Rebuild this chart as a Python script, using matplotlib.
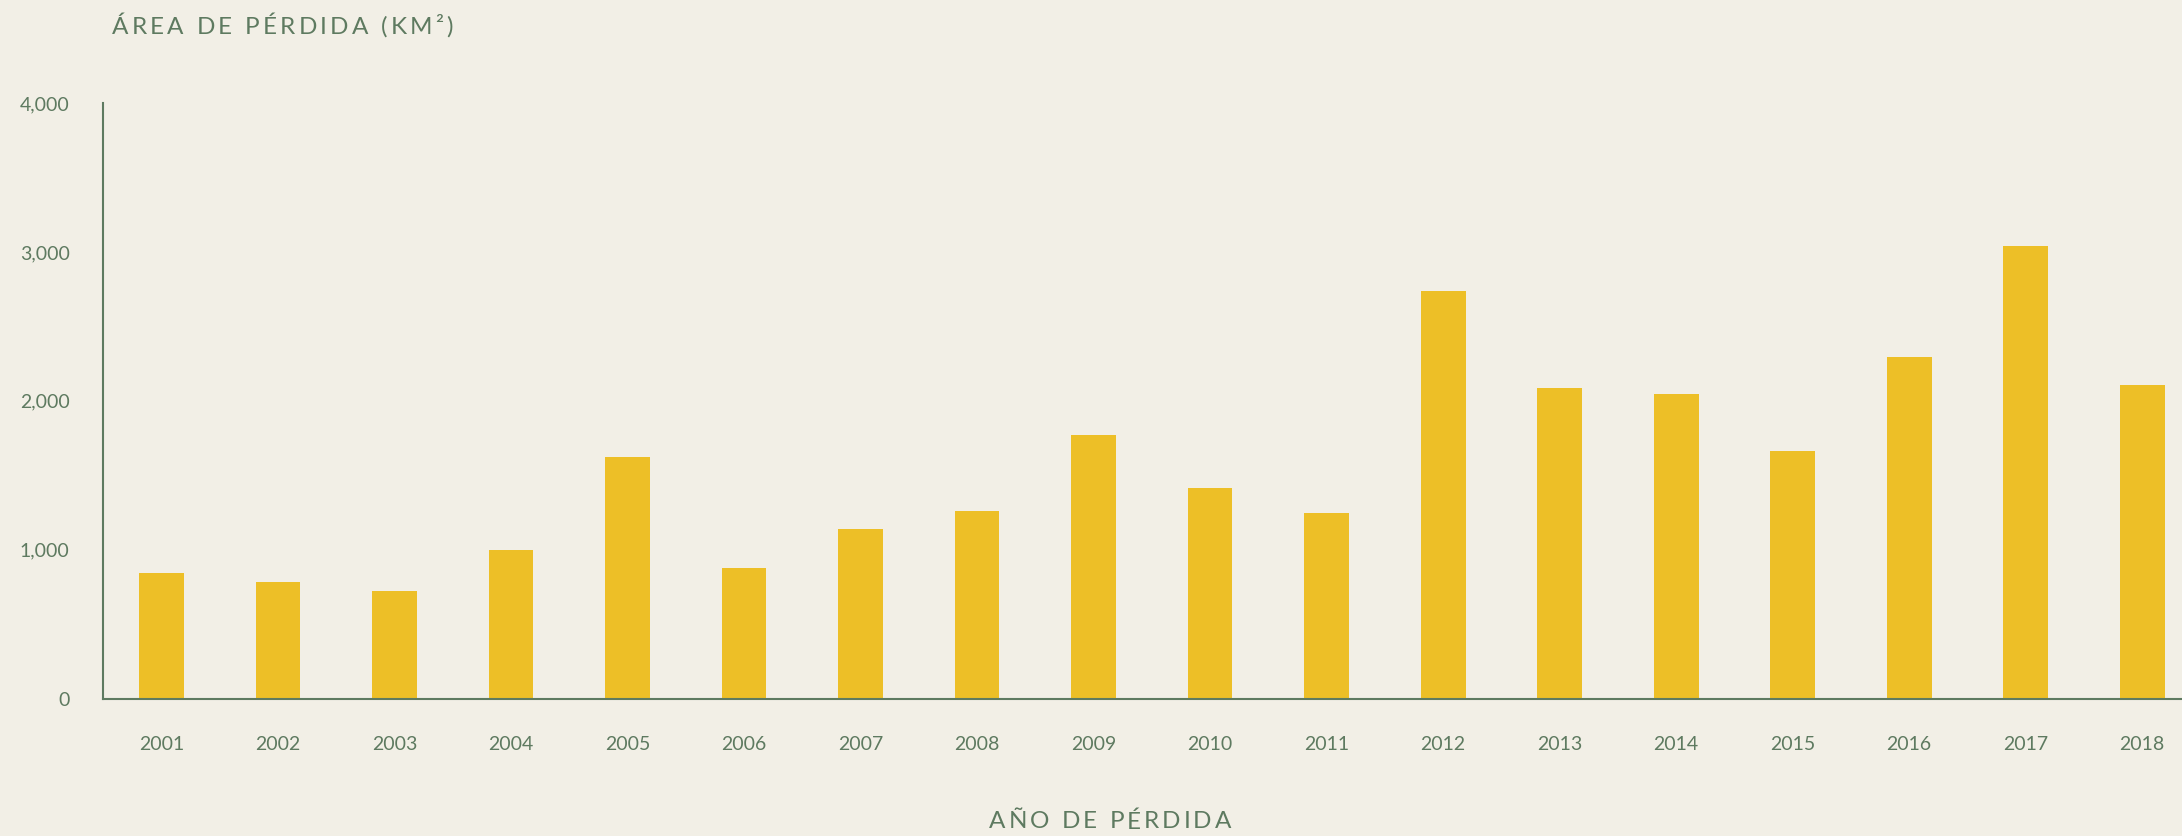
import matplotlib
matplotlib.use("Agg")
import matplotlib.pyplot as plt
from matplotlib.ticker import FuncFormatter

# Data
years = ["2001", "2002", "2003", "2004", "2005", "2006", "2007", "2008", "2009",
         "2010", "2011", "2012", "2013", "2014", "2015", "2016", "2017", "2018"]
loss_km2 = [844, 784, 723, 999, 1623, 878, 1140, 1261, 1771,
            1415, 1247, 2737, 2087, 2046, 1663, 2293, 3039, 2106]
y_ticks = [0, 1000, 2000, 3000, 4000]
title_text = "ÁREA DE PÉRDIDA (KM²)"
xlabel_text = "AÑO DE PÉRDIDA"

BG = "#f2efe6"
BAR = "#edbf27"
INK = "#5e7a60"
FONT = ["Lato", "DejaVu Sans"]

plt.rcParams["font.family"] = FONT

W, H = 2182, 836
fig = plt.figure(figsize=(W / 100, H / 100), dpi=100, facecolor=BG)
ax = fig.add_axes([103 / W, (H - 698.7) / H, (W - 103) / W, (698.7 - 103) / H])
ax.set_facecolor(BG)

x = list(range(len(years)))
ax.bar(x, loss_km2, width=0.386, color=BAR, zorder=2)

ax.set_xlim(-0.502, 17.343)
ax.set_ylim(0, 4000)
ax.set_xticks(x)
ax.set_xticklabels(years)
ax.set_yticks(y_ticks)
ax.yaxis.set_major_formatter(FuncFormatter(lambda v, p: f"{int(v):,}"))

for s in ["top", "right"]:
    ax.spines[s].set_visible(False)
for s in ["left", "bottom"]:
    ax.spines[s].set_color(INK)
    ax.spines[s].set_linewidth(1.5)
    ax.spines[s].set_zorder(3)

ax.tick_params(axis="both", length=0, colors=INK, labelsize=14)
ax.tick_params(axis="x", pad=27)
ax.tick_params(axis="y", pad=24)


def spaced_text(fig, x_px, y_px, s, size, ha="left", spacing=0.12):
    """Draw text with extra letter spacing (in em) by placing each glyph."""
    renderer = fig.canvas.get_renderer()
    widths = []
    for ch in s:
        t = fig.text(0, 0, ch if ch != " " else "a", fontsize=size, color=INK)
        bb = t.get_window_extent(renderer)
        widths.append(bb.width if ch != " " else bb.width * 0.55)
        t.remove()
    extra = spacing * size * 100 / 72
    total = sum(widths) + extra * (len(s) - 1)
    start = x_px - total / 2 if ha == "center" else x_px
    cur = start
    for ch, w in zip(s, widths):
        if ch != " ":
            fig.text(cur / W, (H - y_px) / H, ch, fontsize=size, color=INK,
                     ha="left", va="center")
        cur += w + extra


fig.canvas.draw()
spaced_text(fig, 112, 27, title_text, 17.5, ha="left", spacing=0.13)
spaced_text(fig, 1110, 822, xlabel_text, 17.5, ha="center", spacing=0.12)

fig.savefig("out.png", dpi=100, facecolor=BG)
